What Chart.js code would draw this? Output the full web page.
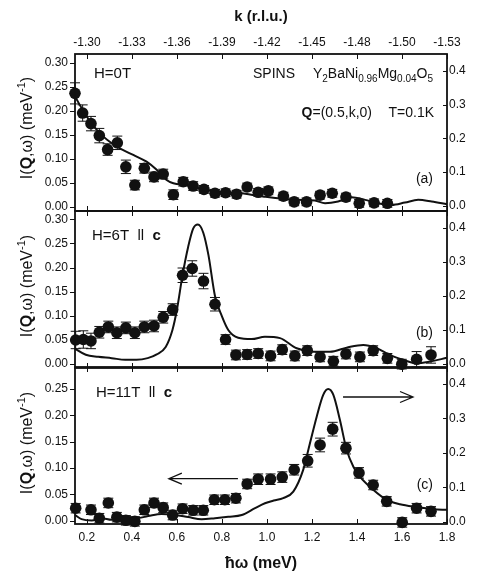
<!DOCTYPE html>
<html>
<head>
<meta charset="utf-8">
<script src="https://cdn.jsdelivr.net/npm/chart.js@4.4.0/dist/chart.umd.min.js"></script>
<style>
    body  { margin: 0; background: #fff; }
    #wrap { position: relative; width: 477px; height: 576px; }
    canvas { position: absolute; left: 0; top: 0; }
</style>
</head>
<body>
<div id="wrap">
    <canvas id="panelA" width="477" height="576"></canvas>
    <canvas id="panelB" width="477" height="576"></canvas>
    <canvas id="panelC" width="477" height="576"></canvas>
</div>
<script>
"use strict";

// axis ticks
const xTicks      = [0.2, 0.4, 0.6, 0.8, 1.0, 1.2, 1.4, 1.6, 1.8];
const kLabels     = ['-1.30', '-1.33', '-1.36', '-1.39', '-1.42', '-1.45', '-1.48', '-1.50', '-1.53'];
const leftTicksAB = [0, 0.05, 0.10, 0.15, 0.20, 0.25, 0.30];
const leftTicksC  = [0, 0.05, 0.10, 0.15, 0.20, 0.25];
const rightTicks  = [0, 0.1, 0.2, 0.3, 0.4];

// (a) H=0T : measured points (left axis) and calculation (right axis)
const eA   = [0.147, 0.181, 0.218, 0.255, 0.292, 0.335, 0.373, 0.413, 0.455, 0.498, 0.539, 0.584, 0.628, 0.672, 0.72,
              0.769, 0.816, 0.865, 0.912, 0.961, 1.006, 1.073, 1.121, 1.176, 1.236, 1.29, 1.351, 1.41, 1.476, 1.535];
const iA   = [0.237, 0.196, 0.174, 0.149, 0.120, 0.134, 0.084, 0.046, 0.081, 0.063, 0.069, 0.026, 0.053, 0.044, 0.037,
              0.029, 0.030, 0.027, 0.042, 0.031, 0.034, 0.023, 0.011, 0.011, 0.025, 0.029, 0.021, 0.008, 0.009, 0.008];
const errA = [0.022, 0.017, 0.015, 0.015, 0.012, 0.014, 0.014, 0.010, 0.010, 0.010, 0.010, 0.010, 0.009, 0.009, 0.008,
              0.008, 0.008, 0.008, 0.008, 0.008, 0.008, 0.008, 0.008, 0.008, 0.008, 0.008, 0.008, 0.008, 0.008, 0.008];
const fitEA = [0.147, 0.199, 0.258, 0.332, 0.406, 0.465, 0.51, 0.554, 0.584, 0.643, 0.702, 0.776, 0.88, 0.982, 1.132,
               1.213, 1.258, 1.316, 1.376, 1.436, 1.493, 1.554, 1.613, 1.672, 1.732, 1.8];
const fitA  = [0.324, 0.265, 0.215, 0.176, 0.151, 0.131, 0.107, 0.077, 0.067, 0.062, 0.052, 0.042, 0.038, 0.028, 0.018,
               0.016, 0.008, 0.013, 0.026, 0.018, 0.008, 0.003, 0.010, 0.018, 0.013, 0.005];

// (b) H=6T || c
const eB   = [0.15, 0.184, 0.218, 0.255, 0.295, 0.333, 0.373, 0.413, 0.455, 0.498, 0.539, 0.581, 0.625, 0.668, 0.718,
              0.769, 0.816, 0.862, 0.912, 0.961, 1.016, 1.068, 1.124, 1.179, 1.236, 1.295, 1.351, 1.413, 1.472, 1.535,
              1.599, 1.665, 1.729];
const iB   = [0.050, 0.051, 0.048, 0.066, 0.077, 0.065, 0.075, 0.065, 0.077, 0.079, 0.097, 0.113, 0.184, 0.198, 0.172,
              0.124, 0.051, 0.019, 0.020, 0.022, 0.017, 0.030, 0.017, 0.028, 0.015, 0.006, 0.021, 0.015, 0.028, 0.012,
              0.000, 0.010, 0.019];
const errB = [0.018, 0.018, 0.016, 0.012, 0.012, 0.012, 0.012, 0.012, 0.012, 0.012, 0.012, 0.012, 0.015, 0.016, 0.016,
              0.014, 0.010, 0.010, 0.010, 0.010, 0.010, 0.010, 0.010, 0.010, 0.010, 0.010, 0.010, 0.010, 0.010, 0.010,
              0.010, 0.016, 0.017];
const fitEB = [0.147, 0.195, 0.25, 0.31, 0.37, 0.42, 0.47, 0.51, 0.55, 0.58, 0.60, 0.625, 0.65, 0.672, 0.693,
               0.717, 0.74, 0.769, 0.80, 0.828, 0.872, 0.932, 0.991, 1.058, 1.132, 1.206, 1.28, 1.354, 1.428, 1.488,
               1.547, 1.606, 1.665, 1.724, 1.8];
const fitB  = [0.045, 0.027, 0.021, 0.017, 0.012, 0.012, 0.017, 0.028, 0.050, 0.100, 0.160, 0.262, 0.345, 0.398, 0.410,
               0.386, 0.320, 0.200, 0.140, 0.100, 0.077, 0.073, 0.080, 0.076, 0.046, 0.036, 0.036, 0.048, 0.056, 0.046,
               0.026, 0.012, 0.002, 0.007, 0.018];

// (c) H=11T || c
const eC   = [0.15, 0.218, 0.255, 0.295, 0.333, 0.373, 0.413, 0.455, 0.498, 0.539, 0.581, 0.625, 0.672, 0.717, 0.766,
              0.813, 0.862, 0.912, 0.961, 1.016, 1.068, 1.121, 1.181, 1.236, 1.292, 1.351, 1.409, 1.472, 1.532, 1.601,
              1.665, 1.729];
const iC   = [0.024, 0.021, 0.005, 0.034, 0.007, 0.001, -0.001, 0.021, 0.034, 0.025, 0.011, 0.023, 0.020, 0.020, 0.040,
              0.040, 0.043, 0.070, 0.079, 0.079, 0.083, 0.097, 0.114, 0.144, 0.174, 0.138, 0.091, 0.068, 0.037, -0.003,
              0.024, 0.018];
const errC = [0.009, 0.009, 0.009, 0.009, 0.009, 0.009, 0.009, 0.009, 0.009, 0.009, 0.009, 0.009, 0.009, 0.009, 0.009,
              0.009, 0.009, 0.009, 0.010, 0.010, 0.010, 0.010, 0.012, 0.013, 0.013, 0.011, 0.010, 0.009, 0.009, 0.009,
              0.009, 0.009];
const fitEC = [0.147, 0.176, 0.221, 0.265, 0.31, 0.369, 0.413, 0.472, 0.532, 0.591, 0.65, 0.71, 0.769, 0.828, 0.888,
               0.947, 0.991, 1.03, 1.072, 1.117, 1.161, 1.191, 1.221, 1.25, 1.272, 1.295, 1.324, 1.354, 1.384, 1.413,
               1.472, 1.532, 1.591, 1.665, 1.739, 1.8];
const fitC  = [0.020, 0.008, 0.004, 0.011, 0.006, 0.014, 0.010, 0.017, 0.023, 0.020, 0.014, 0.008, 0.011, 0.015, 0.020,
               0.040, 0.054, 0.062, 0.069, 0.088, 0.151, 0.228, 0.305, 0.368, 0.385, 0.368, 0.296, 0.209, 0.160, 0.131,
               0.093, 0.064, 0.051, 0.043, 0.037, 0.035];

const FONT  = "'Liberation Sans', Arial, Helvetica, sans-serif";
const INK   = '#111';
const X_MIN = 0.147;
const X_MAX = 1.8;

// text with bold / sub / sup pieces, y is the baseline
function rich(ctx, parts, x, y, align, size) {
    const fontFor = s => (s === 'b' ? 'bold ' : '') +
        (s === 'sub' || s === 'sup' ? Math.round(size * 0.68) : size) + 'px ' + FONT;
    let w = 0;
    parts.forEach(([t, s]) => { ctx.font = fontFor(s); w += ctx.measureText(t).width; });
    let cx = align === 'right' ? x - w : (align === 'center' ? x - w / 2 : x);
    ctx.textAlign = 'left';
    ctx.textBaseline = 'alphabetic';
    parts.forEach(([t, s]) => {
        ctx.font = fontFor(s);
        const dy = s === 'sub' ? size * 0.28 : (s === 'sup' ? -size * 0.42 : 0);
        ctx.fillText(t, cx, y + dy);
        cx += ctx.measureText(t).width;
    });
}

function arrow(ctx, x1, x2, y) {
    const dir = x2 > x1 ? 1 : -1;
    ctx.beginPath();
    ctx.moveTo(x1, y);
    ctx.lineTo(x2, y);
    ctx.moveTo(x2 - dir * 13, y - 5.5);
    ctx.lineTo(x2, y);
    ctx.lineTo(x2 - dir * 13, y + 5.5);
    ctx.stroke();
}

const yTitle = [['I(', ''], ['Q', 'b'], [',\u03c9) (meV', ''], ['-1', 'sup'], [')', '']];

// per panel extras: error bars, annotations
const panels = {
    panelA: {
        err: errA, titleY: 128,
        notes(ctx, c) {
            rich(ctx, [['H=0T', '']], 94, 78, 'left', 15);
            rich(ctx, [['SPINS', '']], 253, 78, 'left', 14);
            rich(ctx, [['Y', ''], ['2', 'sub'], ['BaNi', ''], ['0.96', 'sub'], ['Mg', ''], ['0.04', 'sub'],
                       ['O', ''], ['5', 'sub']], 433, 78, 'right', 14);
            rich(ctx, [['Q', 'b'], ['=(0.5,k,0)', '']], 372, 117, 'right', 14);
            rich(ctx, [['T=0.1K', '']], 434, 117, 'right', 14);
            rich(ctx, [['(a)', '']], 433, 183, 'right', 14);
        }
    },
    panelB: {
        err: errB, titleY: 286,
        notes(ctx, c) {
            rich(ctx, [['H=6T', ''], ['  ll  ', ''], ['c', 'b']], 92, 240, 'left', 15);
            rich(ctx, [['(b)', '']], 433, 337, 'right', 14);
        }
    },
    panelC: {
        err: errC, titleY: 443,
        notes(ctx, c) {
            rich(ctx, [['H=11T', ''], ['  ll  ', ''], ['c', 'b']], 96, 397, 'left', 15);
            rich(ctx, [['(c)', '']], 433, 489, 'right', 14);
            const x = c.scales.x, yl = c.scales.yl, yr = c.scales.yr;
            ctx.lineWidth = 1.3;
            arrow(ctx, x.getPixelForValue(0.871), x.getPixelForValue(0.564), yl.getPixelForValue(0.08));
            arrow(ctx, x.getPixelForValue(1.338), x.getPixelForValue(1.649), yr.getPixelForValue(0.362));
        }
    }
};

const framePlugin = {
    id: 'frame',
    beforeDatasetsDraw(chart) {
        const p = panels[chart.canvas.id];
        const ctx = chart.ctx, x = chart.scales.x, yl = chart.scales.yl;
        const pts = chart.data.datasets[0].data;
        ctx.save();
        ctx.strokeStyle = INK;
        ctx.lineWidth = 1;
        pts.forEach((pt, i) => {
            const px = x.getPixelForValue(pt.x);
            const lo = yl.getPixelForValue(pt.y - p.err[i]);
            const hi = yl.getPixelForValue(pt.y + p.err[i]);
            ctx.beginPath();
            ctx.moveTo(px, lo); ctx.lineTo(px, hi);
            ctx.moveTo(px - 5, lo); ctx.lineTo(px + 5, lo);
            ctx.moveTo(px - 5, hi); ctx.lineTo(px + 5, hi);
            ctx.stroke();
        });
        ctx.restore();
    },
    afterDraw(chart) {
        const p = panels[chart.canvas.id];
        const ctx = chart.ctx, a = chart.chartArea;
        const x = chart.scales.x, yl = chart.scales.yl, yr = chart.scales.yr;
        ctx.save();
        ctx.strokeStyle = INK;
        ctx.fillStyle = INK;
        ctx.lineWidth = 1.8;
        ctx.strokeRect(a.left, a.top, a.right - a.left, a.bottom - a.top);
        ctx.lineWidth = 1;
        ctx.beginPath();
        xTicks.forEach(v => {
            const px = Math.round(x.getPixelForValue(v)) + 0.5;
            ctx.moveTo(px, a.top); ctx.lineTo(px, a.top + 5);
            ctx.moveTo(px, a.bottom); ctx.lineTo(px, a.bottom - 5);
        });
        yl.ticks.forEach(t => {
            const py = Math.round(yl.getPixelForValue(t.value)) + 0.5;
            ctx.moveTo(a.left - 5, py); ctx.lineTo(a.left, py);
        });
        yr.ticks.forEach(t => {
            const py = Math.round(yr.getPixelForValue(t.value)) + 0.5;
            ctx.moveTo(a.right - 4, py); ctx.lineTo(a.right, py);
        });
        ctx.stroke();

        // rotated y title
        ctx.save();
        ctx.translate(26, p.titleY);
        ctx.rotate(-Math.PI / 2);
        rich(ctx, yTitle, 0, 6, 'center', 16);
        ctx.restore();

        p.notes(ctx, chart);
        ctx.restore();
    }
};

function makePanel(id, cfg) {
    const tickFont = { family: FONT, size: 12 };
    const scales = {
        x: {
            type: 'linear', position: 'bottom', min: X_MIN, max: X_MAX,
            display: cfg.bottomAxis,
            afterBuildTicks: s => { s.ticks = xTicks.map(v => ({ value: v })); },
            afterFit: s => { if (cfg.bottomAxis) s.height = 52; },
            grid: { display: false, drawTicks: false },
            border: { display: false },
            ticks: { font: tickFont, color: INK, padding: 6, maxRotation: 0, autoSkip: false,
                     callback: v => v.toFixed(1) },
            title: { display: true, text: '\u0127\u03c9 (meV)', color: INK,
                     font: { family: FONT, size: 16, weight: 'bold' }, padding: { top: 0, bottom: 3 } }
        },
        yl: {
            type: 'linear', position: 'left', min: cfg.yl[0], max: cfg.yl[1],
            afterBuildTicks: s => { s.ticks = cfg.leftTicks.map(v => ({ value: v })); },
            afterFit: s => { s.width = 75; },
            grid: { display: false, drawTicks: false },
            border: { display: false },
            ticks: { font: tickFont, color: INK, padding: 7, callback: v => v.toFixed(2) }
        },
        yr: {
            type: 'linear', position: 'right', min: cfg.yr[0], max: cfg.yr[1],
            afterBuildTicks: s => { s.ticks = rightTicks.map(v => ({ value: v })); },
            afterFit: s => { s.width = 30; },
            grid: { display: false, drawTicks: false },
            border: { display: false },
            ticks: { font: tickFont, color: INK, padding: 2, callback: v => v.toFixed(1) }
        }
    };
    if (cfg.topAxis) {
        scales.x2 = {
            type: 'linear', position: 'top', min: X_MIN, max: X_MAX,
            afterBuildTicks: s => { s.ticks = xTicks.map(v => ({ value: v })); },
            afterFit: s => { s.height = 54; },
            grid: { display: false, drawTicks: false },
            border: { display: false },
            ticks: { font: tickFont, color: INK, padding: 4, maxRotation: 0, autoSkip: false,
                     callback: (v, i) => kLabels[i] },
            title: { display: true, text: 'k (r.l.u.)', color: INK,
                     font: { family: FONT, size: 15, weight: 'bold' }, padding: { top: 8, bottom: 0 } }
        };
    }

    return new Chart(document.getElementById(id), {
        type: 'scatter',
        data: {
            datasets: [{
                data: cfg.e.map((e, i) => ({ x: e, y: cfg.i[i] })),
                yAxisID: 'yl',
                pointRadius: 5.8,
                pointBackgroundColor: INK,
                pointBorderWidth: 0,
                clip: false
            }, {
                data: cfg.fitE.map((e, i) => ({ x: e, y: cfg.fit[i] })),
                yAxisID: 'yr',
                showLine: true,
                pointRadius: 0,
                borderColor: INK,
                borderWidth: 2,
                cubicInterpolationMode: 'monotone',
                clip: false
            }]
        },
        options: {
            responsive: false,
            animation: false,
            devicePixelRatio: 1,
            layout: { padding: cfg.padding },
            plugins: { legend: { display: false }, tooltip: { enabled: false } },
            scales: scales
        },
        plugins: [framePlugin]
    });
}

makePanel('panelA', {
    e: eA, i: iA, fitE: fitEA, fit: fitA,
    yl: [-0.008, 0.319], yr: [-0.015, 0.45], leftTicks: leftTicksAB,
    topAxis: true, bottomAxis: false,
    padding: { top: 0, bottom: 365, left: 0, right: 0 }
});
makePanel('panelB', {
    e: eB, i: iB, fitE: fitEB, fit: fitB,
    yl: [-0.008, 0.317], yr: [-0.012, 0.45], leftTicks: leftTicksAB,
    topAxis: false, bottomAxis: false,
    padding: { top: 211, bottom: 208, left: 0, right: 0 }
});
makePanel('panelC', {
    e: eC, i: iC, fitE: fitEC, fit: fitC,
    yl: [-0.006, 0.292], yr: [-0.006, 0.449], leftTicks: leftTicksC,
    topAxis: false, bottomAxis: true,
    padding: { top: 367, bottom: 0, left: 0, right: 0 }
});
</script>
</body>
</html>
